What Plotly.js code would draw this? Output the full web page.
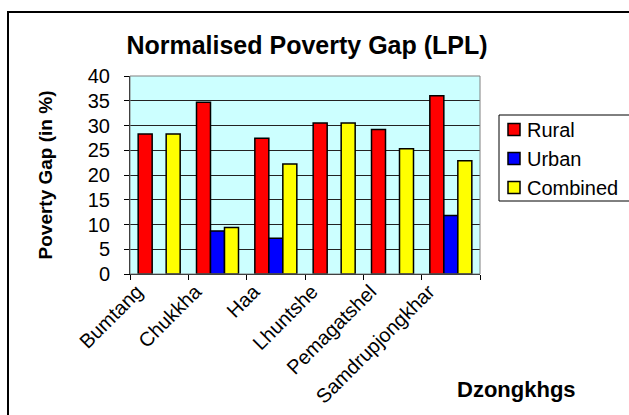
<!DOCTYPE html>
<html>
<head>
<meta charset="utf-8">
<script src="https://cdn.plot.ly/plotly-3.0.1.min.js"></script>
<style>
html,body{margin:0;padding:0;background:#fff;overflow:hidden;width:629px;height:415px;}
#chart .legend .legendpoints{transform:translate(7px,0px);}
</style>
</head>
<body>
<div id="chart" style="width:655px;height:415px;"></div>
<script>
var categories = ["Bumtang", "Chukkha", "Haa", "Lhuntshe", "Pemagatshel", "Samdrupjongkhar"];
var rural = [28.3, 34.7, 27.4, 30.5, 29.2, 36.0];
var urban = [null, 8.7, 7.2, null, null, 11.8];
var combined = [28.3, 9.4, 22.2, 30.5, 25.3, 22.9];
var yTicks = [0, 5, 10, 15, 20, 25, 30, 35, 40];

var FONT = "Liberation Sans, Arial, sans-serif";
var outline = {color: "#000000", width: 1.5};

var traces = [
  {type: "bar", name: "Rural", x: categories, y: rural, marker: {color: "#FF0000", line: outline}},
  {type: "bar", name: "Urban", x: categories, y: urban, marker: {color: "#0000FF", line: outline}},
  {type: "bar", name: "Combined", x: categories, y: combined, marker: {color: "#FFFF00", line: outline}}
];

var L = 130, R = 480, T = 76, B = 274, W = 655, H = 415;
function px(x) { return (x - L) / (R - L); }
function py(y) { return (B - y) / (B - T); }

var layout = {
  width: W, height: H,
  margin: {l: L, r: W - R, t: T, b: H - B, pad: 0},
  paper_bgcolor: "#FFFFFF",
  plot_bgcolor: "#CCFFFF",
  font: {family: FONT, color: "#000000", size: 19},
  barmode: "group",
  bargap: 0.28,
  bargroupgap: 0,
  showlegend: true,
  title: {
    text: "<b>Normalised Poverty Gap (LPL)</b>",
    font: {family: FONT, size: 25, color: "#000"},
    x: 307 / W, xanchor: "center", xref: "container",
    y: 1 - 45 / H, yanchor: "middle", yref: "container"
  },
  xaxis: {
    type: "category",
    tickangle: -45,
    ticks: "outside", ticklen: 5, tickcolor: "#000", tickwidth: 1,
    tickson: "boundaries",
    ticklabelshift: -22,
    ticklabelstandoff: -3,
    showline: true, linecolor: "#000", linewidth: 1,
    showgrid: false,
    tickfont: {family: FONT, size: 20, color: "#000"},
    automargin: false
  },
  yaxis: {
    range: [0, 40],
    tickvals: yTicks,
    ticktext: yTicks.map(String),
    ticks: "outside", ticklen: 5, tickcolor: "#000", tickwidth: 1,
    showline: true, linecolor: "#000", linewidth: 1,
    showgrid: true, gridcolor: "#222", gridwidth: 1,
    zeroline: false,
    tickfont: {family: FONT, size: 20, color: "#000"},
    ticklabelstandoff: 10,
    automargin: false,
    title: {text: "<b>Poverty Gap (in %)</b>", font: {family: FONT, size: 19, color: "#000"}, standoff: 30}
  },
  legend: {
    x: px(487), xanchor: "left",
    y: py(110), yanchor: "top",
    bgcolor: "rgba(0,0,0,0)",
    borderwidth: 0,
    font: {family: FONT, size: 20, color: "#000"},
    tracegroupgap: 0,
    itemwidth: 30
  },
  annotations: [
    {text: "<b>Dzongkhgs</b>", xref: "paper", yref: "paper", x: px(516), y: py(389),
     xanchor: "center", yanchor: "middle", showarrow: false,
     font: {family: FONT, size: 22, color: "#000"}}
  ],
  shapes: [
    {type: "rect", xref: "paper", yref: "paper", x0: 0, x1: 1, y0: 0, y1: 1,
     line: {color: "#808080", width: 1}, layer: "above"},
    {type: "rect", xref: "paper", yref: "paper", x0: px(8), x1: px(700), y0: py(460), y1: py(12),
     line: {color: "#000", width: 2}, fillcolor: "rgba(0,0,0,0)", layer: "below"},
    {type: "rect", xref: "paper", yref: "paper", x0: px(499), x1: px(700), y0: py(201), y1: py(115),
     line: {color: "#000", width: 1}, fillcolor: "#FFFFFF", layer: "below"}
  ]
};

Plotly.newPlot("chart", traces, layout, {displayModeBar: false, staticPlot: true});
</script>
</body>
</html>
